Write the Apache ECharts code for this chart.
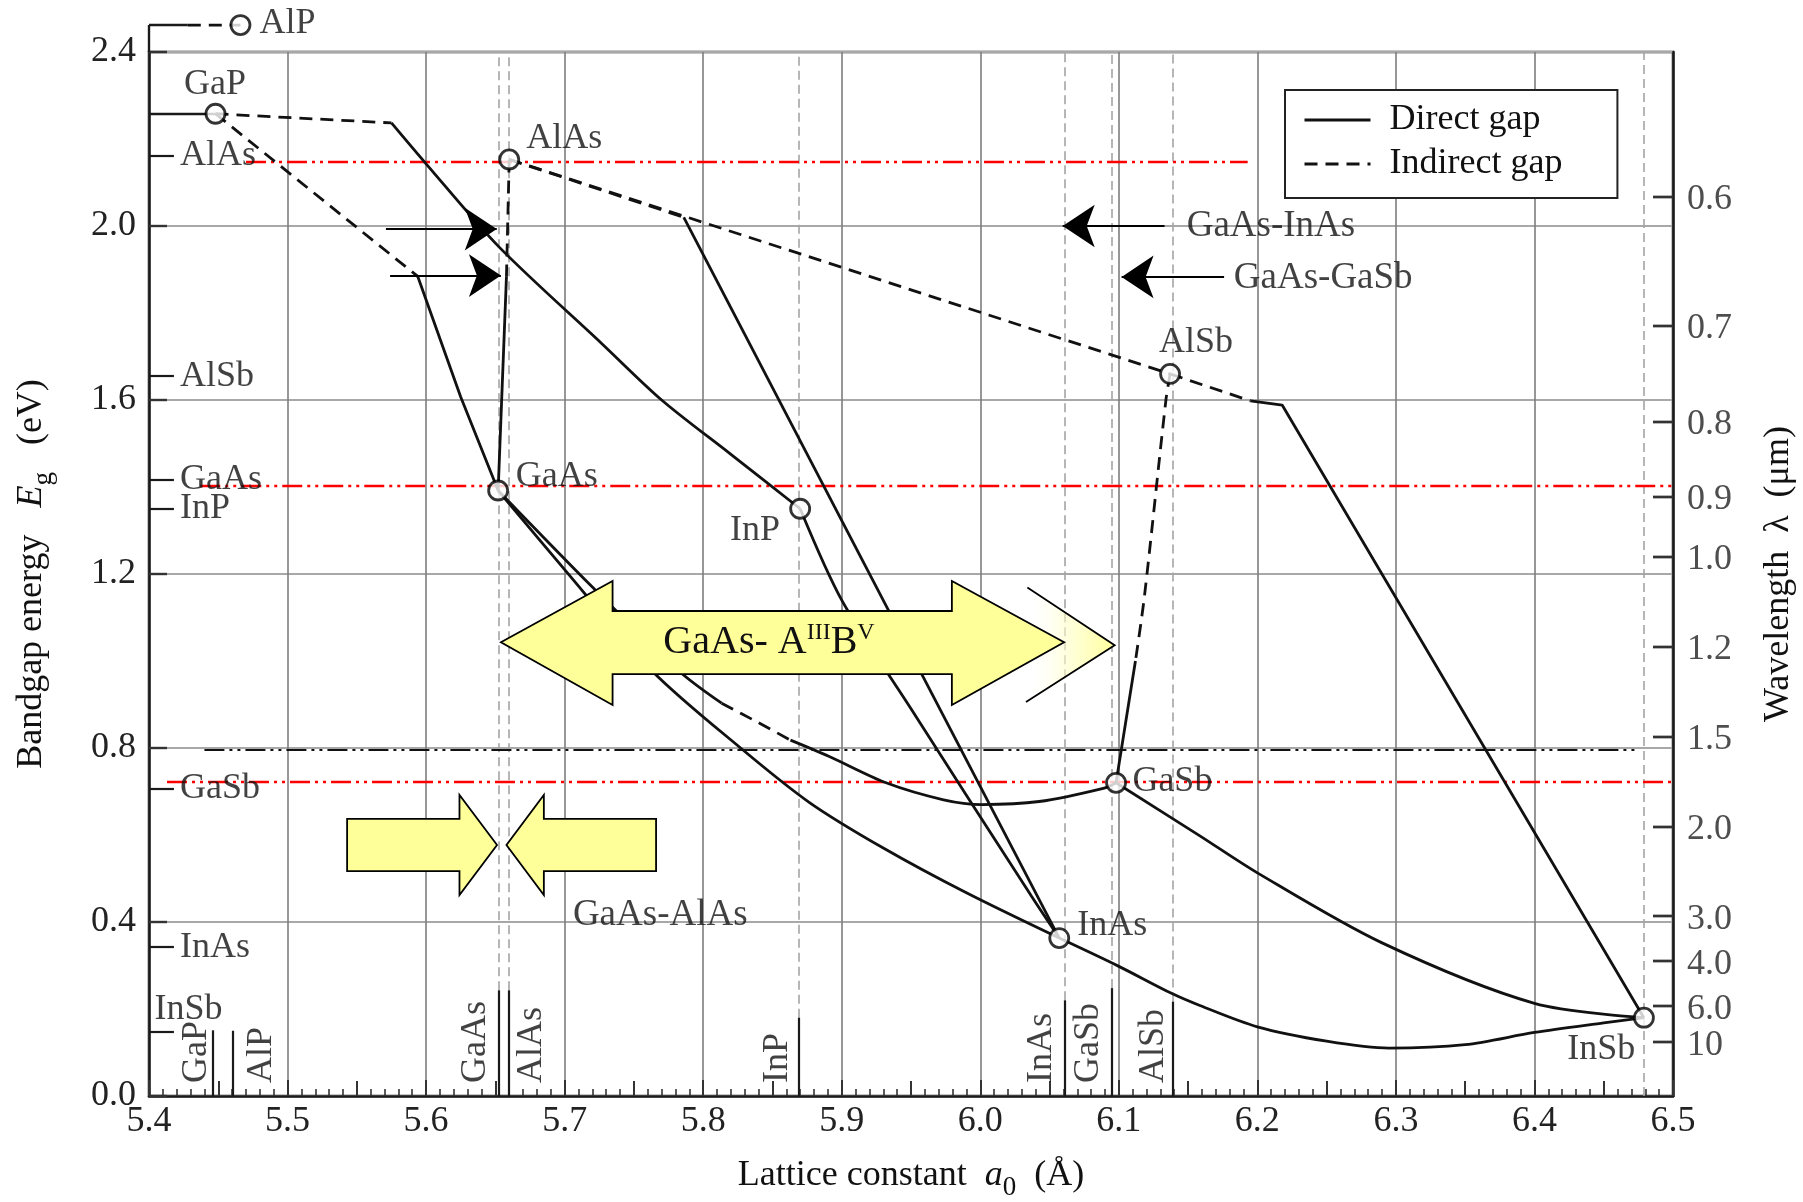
<!DOCTYPE html>
<html>
<head>
<meta charset="utf-8">
<title>Bandgap energy vs lattice constant</title>
<script src="https://cdn.jsdelivr.net/npm/echarts@6/dist/echarts.min.js"></script>
<style>
  html, body { margin: 0; padding: 0; background: #ffffff; }
  #chart { width: 1803px; height: 1202px; }
</style>
</head>
<body>
<div id="chart"></div>
<script>
// ---------- axis ranges and tick labels ----------
const latticeRange = [5.4, 6.5];
const gapRange = [0, 2.4];
const wavelengthTicks = [0.6, 0.7, 0.8, 0.9, 1.0, 1.2, 1.5, 2.0, 3.0, 4.0, 6.0, 10];
const wavelengthLabels = ['0.6', '0.7', '0.8', '0.9', '1.0', '1.2', '1.5', '2.0', '3.0', '4.0', '6.0', '10'];

// ---------- binary compounds (lattice constant Å, bandgap eV) ----------
const materialNames   = ['AlP', 'GaP', 'AlAs', 'GaAs', 'InP', 'AlSb', 'GaSb', 'InAs', 'InSb'];
const materialLattice = [5.466, 5.448, 5.660, 5.652, 5.870, 6.137, 6.098, 6.057, 6.479];
const materialGap     = [2.462, 2.258, 2.153, 1.392, 1.350, 1.660, 0.720, 0.363, 0.180];

// ---------- ternary alloy curves ----------
// indirect-gap branches
const GaP_InP_indirect   = [[5.448, 2.258], [5.575, 2.237]];
const GaP_GaAs_indirect  = [[5.448, 2.258], [5.594, 1.884]];
const AlAs_AlSb_indirect = [[5.660, 2.153], [6.137, 1.660]];
const AlAs_InAs_indirect = [[5.660, 2.153], [5.786, 2.020]];
const AlAs_GaAs_indirect = [[5.660, 2.153], [5.658, 1.883]];
const AlSb_GaSb_indirect = [[6.137, 1.660], [6.134, 1.600], [6.1185, 1.149], [6.112, 1.000]];
const AlSb_InSb_indirect = [[6.137, 1.660], [6.195, 1.598]];
const GaAs_GaSb_indirect = [[5.8133, 0.903], [5.840, 0.858], [5.863, 0.818]];
const AlP_leader_indirect = [[5.428, 2.462], [5.466, 2.462]];

// direct-gap branches
const GaP_InP_direct   = [[5.575, 2.237], [5.600, 2.143], [5.6526, 1.952], [5.7267, 1.730], [5.770, 1.600], [5.820, 1.475], [5.870, 1.350]];
const GaP_GaAs_direct  = [[5.594, 1.884], [5.625, 1.607], [5.652, 1.392]];
const GaAs_AlAs_direct = [[5.652, 1.392], [5.658, 1.883]];
const AlAs_InAs_direct = [[5.786, 2.020], [6.057, 0.363]];
const InP_InAs_direct  = [[5.870, 1.350], [5.900, 1.140], [5.950, 0.890], [6.037, 0.459], [6.057, 0.363]];
const GaAs_InAs_direct = [[5.652, 1.392], [5.700, 1.210], [5.7635, 0.976], [5.827, 0.800], [5.877, 0.674], [5.930, 0.570], [5.990, 0.467], [6.057, 0.363]];
const GaAs_GaSb_direct_a = [[5.652, 1.392], [5.720, 1.170], [5.7829, 0.976], [5.8133, 0.903]];
const GaAs_GaSb_direct_b = [[5.863, 0.818], [5.8906, 0.781], [5.932, 0.720], [5.9735, 0.681], [6.001, 0.670], [6.0425, 0.677], [6.0895, 0.708], [6.098, 0.720]];
const AlSb_GaSb_direct = [[6.112, 1.000], [6.102, 0.800], [6.098, 0.720]];
const GaSb_InSb_direct = [[6.098, 0.720], [6.1585, 0.598], [6.200, 0.513], [6.290, 0.352], [6.400, 0.213], [6.479, 0.180]];
const InAs_InSb_direct = [[6.057, 0.363], [6.100, 0.298], [6.138, 0.236], [6.1585, 0.208], [6.200, 0.159], [6.250, 0.126], [6.295, 0.110], [6.350, 0.118], [6.400, 0.146], [6.450, 0.168], [6.479, 0.180]];
const AlSb_InSb_direct = [[6.195, 1.598], [6.218, 1.588], [6.479, 0.180]];

// ---------- reference levels (eV) ----------
const levelAlAs = [[5.470, 2.148], [6.193, 2.148]];
const levelGaAs = [[5.437, 1.402], [6.500, 1.402]];
const levelGaSb = [[5.413, 0.722], [6.500, 0.722]];
const level0p8  = [[5.440, 0.797], [6.475, 0.797]];

// ---------- lattice-constant markers along the bottom ----------
const markerNames   = ['GaP', 'AlP', 'GaAs', 'AlAs', 'InP', 'InAs', 'GaSb', 'AlSb'];
const markerLattice = [5.446, 5.4605, 5.6525, 5.6595, 5.869, 6.061, 6.0946, 6.139];
const markerTop     = [0.151, 0.150, 0.243, 0.243, 0.180, 0.220, 0.248, 0.217];
const markerLabelX  = [5.434, 5.481, 5.636, 5.676, 5.854, 6.044, 6.078, 6.125];
const dashedLattice = [5.6525, 5.6595, 5.869, 6.061, 6.0946, 6.139, 6.479];
const dashedBottom  = [0.243, 0.243, 0.180, 0.220, 0.248, 0.217, 0.0];

// ---------- bandgap markers on the energy axis ----------
const axisMaterialNames = ['AlAs', 'AlSb', 'GaAs', 'InP', 'GaSb', 'InAs'];
const axisMaterialGap   = [2.162, 1.655, 1.417, 1.351, 0.707, 0.342];
const InSbAxisGap = 0.148;

// ---------- text beside the compound points ----------
const pointLabelText = ['AlP', 'GaP', 'AlAs', 'AlSb', 'GaAs', 'InP', 'GaSb', 'InAs', 'InSb'];
const pointLabelX    = [5.4797, 5.4477, 5.6723, 6.129, 5.6648, 5.8193, 6.1098, 6.070, 6.4237];
const pointLabelY    = [2.466, 2.326, 2.202, 1.731, 1.425, 1.300, 0.722, 0.391, 0.106];

// ---------- annotation arrows ----------
const pointerFrom = [[5.571, 1.993], [5.574, 1.886], [6.133, 2.000], [6.176, 1.883]];
const pointerTo   = [[5.651, 1.993], [5.654, 1.886], [6.0595, 2.000], [6.102, 1.883]];
const noteText = ['GaAs-InAs', 'GaAs-GaSb', 'GaAs-AlAs'];
const noteX    = [6.149, 6.183, 5.769];
const noteY    = [2.000, 1.880, 0.415];

const FONT = 'Liberation Serif';
const INK = '#111111';

const GRID = { left: 149, right: 130, top: 52, bottom: 106 };
const plotWidth = 1803 - GRID.left - GRID.right;
const pxPerAngstrom = plotWidth / (latticeRange[1] - latticeRange[0]);

const chart = echarts.init(document.getElementById('chart'), null, { renderer: 'canvas' });

const series = [];

// thin segments drawn through the cartesian scales
function segments(list, lineStyle, z, extra) {
  series.push(Object.assign({
    type: 'lines', coordinateSystem: 'cartesian2d', xAxisIndex: 0, yAxisIndex: 0,
    data: list.map(c => ({ coords: c })), lineStyle: Object.assign({ opacity: 1 }, lineStyle), z: z,
    silent: true, animation: false, symbol: ['none', 'none']
  }, extra || {}));
}

function curve(kind, data, smooth) {
  series.push({
    type: 'line', name: kind === 'direct' ? 'Direct gap' : 'Indirect gap',
    xAxisIndex: 0, yAxisIndex: 0, data: data,
    symbol: 'none', showSymbol: false,
    smooth: smooth ? 0.3 : false,
    lineStyle: { color: INK, width: 2.8, type: kind === 'direct' ? 'solid' : [13, 8] },
    silent: true, animation: false, clip: false, z: 4
  });
}

// grid-wide dashed lattice verticals
segments(dashedLattice.map((x, i) => [[x, dashedBottom[i]], [x, gapRange[1]]]),
  { color: '#a4a4a4', width: 1.6, type: [9, 5] }, 2);
// solid lattice markers at the bottom
segments(markerLattice.map((x, i) => [[x, 0], [x, markerTop[i]]]),
  { color: '#1a1a1a', width: 2.2 }, 3);
// energy-axis marks
segments(axisMaterialGap.map(g => [[latticeRange[0], g], [5.418, g]]).concat([[[latticeRange[0], InSbAxisGap], [5.418, InSbAxisGap]]]),
  { color: '#1a1a1a', width: 2.2 }, 3);
segments([[[latticeRange[0], materialGap[1]], [materialLattice[1], materialGap[1]]]],
  { color: '#1a1a1a', width: 2.4 }, 3);
// AlP leader above the frame
segments([[[latticeRange[0], gapRange[1]], [latticeRange[0], materialGap[0]]], [[latticeRange[0], materialGap[0]], [5.428, materialGap[0]]]],
  { color: '#1a1a1a', width: 2.4 }, 3, { clip: false });
// reference levels
segments([levelAlAs, levelGaAs, levelGaSb], { color: '#ff0000', width: 2.4, type: [20, 5, 3, 5, 3, 5] }, 3);
segments([level0p8], { color: '#111111', width: 2.2, type: [20, 5, 3, 5, 3, 5] }, 3);

// wavelength scale: ticks at E = 1.24 / λ on the right-hand axis
const lambdaEnergy = wavelengthTicks.map(l => 1.24 / l);
const tickLen = 20 / pxPerAngstrom;
segments(lambdaEnergy.map(e => [[latticeRange[1] - tickLen, e], [latticeRange[1], e]]),
  { color: '#333', width: 2.4 }, 9, { clip: false });

// alloy curves
curve('direct', GaP_InP_direct, true);
curve('direct', GaP_GaAs_direct, false);
curve('direct', GaAs_AlAs_direct, false);
curve('direct', AlAs_InAs_direct, false);
curve('direct', InP_InAs_direct, true);
curve('direct', GaAs_InAs_direct, true);
curve('direct', GaAs_GaSb_direct_a, true);
curve('direct', GaAs_GaSb_direct_b, true);
curve('direct', AlSb_GaSb_direct, true);
curve('direct', GaSb_InSb_direct, true);
curve('direct', InAs_InSb_direct, true);
curve('direct', AlSb_InSb_direct, false);
curve('indirect', GaP_InP_indirect, false);
curve('indirect', GaP_GaAs_indirect, false);
curve('indirect', AlAs_AlSb_indirect, false);
curve('indirect', AlAs_InAs_indirect, false);
curve('indirect', AlAs_GaAs_indirect, false);
curve('indirect', AlSb_GaSb_indirect, true);
curve('indirect', AlSb_InSb_indirect, false);
curve('indirect', GaAs_GaSb_indirect, true);
curve('indirect', AlP_leader_indirect, false);

// compound points
series.push({
  type: 'scatter', xAxisIndex: 0, yAxisIndex: 0,
  data: materialLattice.map((x, i) => [x, materialGap[i]]),
  symbol: 'circle', symbolSize: 19, clip: false, silent: true, animation: false,
  itemStyle: { color: '#ffffff', borderColor: '#000', borderWidth: 2.8 }, z: 6
});

// pointer arrows
series.push({
  type: 'lines', coordinateSystem: 'cartesian2d', xAxisIndex: 0, yAxisIndex: 0,
  data: pointerFrom.map((p, i) => ({ coords: [p, pointerTo[i]] })),
  symbol: ['none', 'arrow'], symbolSize: 32,
  lineStyle: { color: '#000', width: 2, opacity: 1 }, silent: true, animation: false, z: 7
});

// text helpers
function textItem(text, x, y, align, rotate, size, color) {
  return {
    value: [x, y],
    label: {
      show: true, formatter: text, position: 'inside', align: align, verticalAlign: 'middle',
      rotate: rotate || 0, fontFamily: FONT, fontSize: size || 36, color: color || INK
    }
  };
}
const textData = [];
pointLabelText.forEach((t, i) => textData.push(textItem(t, pointLabelX[i], pointLabelY[i], t === 'GaP' ? 'center' : 'left')));
axisMaterialNames.forEach((t, i) => textData.push(textItem(t, 5.4224, axisMaterialGap[i], 'left')));
textData.push(textItem('InSb', 5.404, 0.198, 'left'));
markerNames.forEach((t, i) => textData.push(textItem(t, markerLabelX[i], 0.030, 'left', 90)));
noteText.forEach((t, i) => textData.push(textItem(t, noteX[i], noteY[i], i === 2 ? 'center' : 'left', 0, 37)));
// wavelength labels beside the right-hand axis (14 px clear of the axis line)
const labelGapX = 14 / pxPerAngstrom;
const pxPerEv = (1202 - GRID.top - GRID.bottom) / (gapRange[1] - gapRange[0]);
wavelengthLabels.forEach((t, i) => textData.push(textItem(t, latticeRange[1] + labelGapX, lambdaEnergy[i] - 3 / pxPerEv, 'left', 0, 36, '#222')));
series.push({
  type: 'scatter', xAxisIndex: 0, yAxisIndex: 0, data: textData,
  symbolSize: 1, itemStyle: { color: 'rgba(0,0,0,0)' }, clip: false, silent: true, animation: false,
  labelLayout: { hideOverlap: false }, z: 8
});

const axisText = { fontFamily: FONT, fontSize: 36, color: '#222' };

chart.setOption({
  backgroundColor: '#ffffff',
  animation: false,
  grid: {
    left: GRID.left, right: GRID.right, top: GRID.top, bottom: GRID.bottom,
    show: true, borderColor: '#1a1a1a', borderWidth: 2.5, containLabel: false, outerBoundsMode: 'none'
  },
  legend: {
    data: ['Direct gap', 'Indirect gap'], orient: 'vertical', left: 1285, top: 90,
    itemWidth: 66, itemHeight: 14, itemGap: 8, padding: [12, 55, 16, 18],
    borderColor: '#222', borderWidth: 2, backgroundColor: '#ffffff', selectedMode: false,
    itemStyle: { opacity: 0 }, lineStyle: { width: 3 },
    textStyle: { fontFamily: FONT, fontSize: 36, color: INK, padding: [0, 0, 0, 14] }
  },
  xAxis: [
    {
      type: 'value', min: latticeRange[0], max: latticeRange[1], interval: 0.1, position: 'bottom',
      axisLine: { show: true, onZero: false, lineStyle: { color: '#1a1a1a', width: 2.5 } },
      axisTick: { show: true, inside: true, length: 16, lineStyle: { color: '#333', width: 2 } },
      minorTick: { show: true, splitNumber: 10, length: 7, lineStyle: { color: '#333', width: 1.6 } },
      axisLabel: Object.assign({ margin: 8, formatter: v => v.toFixed(1) }, axisText),
      splitLine: { show: true, lineStyle: { color: '#7d7d7d', width: 1.6 } },
      name: '{n|Lattice constant  }{i|a}{s|0}{n|  (Å)}', nameLocation: 'middle', nameGap: 55,
      nameTextStyle: {
        rich: {
          n: { fontFamily: FONT, fontSize: 36, color: INK, lineHeight: 50 },
          i: { fontFamily: FONT, fontSize: 36, fontStyle: 'italic', color: INK, lineHeight: 50 },
          s: { fontFamily: FONT, fontSize: 27, color: INK, lineHeight: 50, verticalAlign: 'bottom' }
        }
      }
    },
    {
      type: 'value', min: latticeRange[0], max: latticeRange[1], interval: 0.05, position: 'bottom',
      axisLine: { show: false }, axisLabel: { show: false }, splitLine: { show: false },
      axisTick: { show: true, inside: true, length: 15, lineStyle: { color: '#333', width: 2 } }
    }
  ],
  yAxis: [
    {
      type: 'value', min: gapRange[0], max: gapRange[1], interval: 0.4, position: 'left',
      axisLine: { show: true, onZero: false, lineStyle: { color: '#1a1a1a', width: 2.5 } },
      axisTick: { show: true, inside: true, length: 18, lineStyle: { color: '#333', width: 2.4 } },
      axisLabel: Object.assign({ margin: 13, formatter: v => v.toFixed(1) }, axisText),
      splitLine: { show: true, lineStyle: { color: '#a8a8a8', width: 1.8 } },
      name: '{n|Bandgap energy   }{i|E}{s|g}{n|   (eV)}', nameLocation: 'middle', nameRotate: 90, nameGap: 92,
      nameTextStyle: {
        rich: {
          n: { fontFamily: FONT, fontSize: 36, color: INK, lineHeight: 50 },
          i: { fontFamily: FONT, fontSize: 36, fontStyle: 'italic', color: INK, lineHeight: 50 },
          s: { fontFamily: FONT, fontSize: 27, color: INK, lineHeight: 50, verticalAlign: 'bottom' }
        }
      }
    },
    {
      type: 'value', min: gapRange[0], max: gapRange[1], position: 'right',
      axisLine: { show: true, onZero: false, lineStyle: { color: '#1a1a1a', width: 2.5 } },
      axisTick: { show: true, inside: true, length: 20, customValues: lambdaEnergy, lineStyle: { color: '#333', width: 2.4 } },
      axisLabel: { show: false }, splitLine: { show: false },
      name: 'Wavelength  λ  (μm)', nameLocation: 'middle', nameRotate: 90, nameGap: 88,
      nameTextStyle: { fontFamily: FONT, fontSize: 36, color: INK }
    }
  ],
  series: series
});

// ---------- block arrows (annotation shapes placed in data coordinates) ----------
const bigArrow = { tipL: 5.654, headL: 5.7346, headR: 5.9795, tipR: 6.0605, mid: 1.043, bodyTop: 1.115, bodyBot: 0.970, headTop: 1.184, headBot: 0.899 };
const chevron = [[6.034, 1.169], [6.097, 1.036], [6.033, 0.906]];
const pinchR = { tail: 5.543, base: 5.6241, tip: 5.6512 };
const pinchL = { tail: 5.766, base: 5.685, tip: 5.658 };
const pinchY = { mid: 0.577, bodyTop: 0.637, bodyBot: 0.517, headTop: 0.692, headBot: 0.462 };

const px = (x, y) => chart.convertToPixel({ xAxisIndex: 0, yAxisIndex: 0 }, [x, y]);
const YELLOW = '#ffff99';

function bigArrowPoints(a) {
  return [
    [a.tipL, a.mid], [a.headL, a.headTop], [a.headL, a.bodyTop], [a.headR, a.bodyTop], [a.headR, a.headTop],
    [a.tipR, a.mid], [a.headR, a.headBot], [a.headR, a.bodyBot], [a.headL, a.bodyBot], [a.headL, a.headBot]
  ].map(p => px(p[0], p[1]));
}
function pinchPoints(p, y) {
  return [
    [p.tail, y.bodyTop], [p.base, y.bodyTop], [p.base, y.headTop], [p.tip, y.mid],
    [p.base, y.headBot], [p.base, y.bodyBot], [p.tail, y.bodyBot]
  ].map(q => px(q[0], q[1]));
}

const chevronPx = chevron.map(p => px(p[0], p[1]));
const textCenter = px(5.8504, bigArrow.mid);

chart.setOption({
  graphic: [
    {
      type: 'polygon', z: 50, silent: true,
      shape: { points: chevronPx },
      style: {
        fill: new echarts.graphic.LinearGradient(0, 0, 1, 0, [
          { offset: 0, color: 'rgba(255,255,255,0)' },
          { offset: 0.45, color: 'rgba(255,255,200,0.6)' },
          { offset: 1, color: YELLOW }
        ]),
        stroke: null
      }
    },
    {
      type: 'polyline', z: 51, silent: true,
      shape: { points: chevronPx },
      style: { stroke: '#000', lineWidth: 1.8, fill: null }
    },
    {
      type: 'polygon', z: 52, silent: true,
      shape: { points: bigArrowPoints(bigArrow) },
      style: { fill: YELLOW, stroke: '#000', lineWidth: 1.8 }
    },
    {
      type: 'polygon', z: 52, silent: true,
      shape: { points: pinchPoints(pinchR, pinchY) },
      style: { fill: YELLOW, stroke: '#000', lineWidth: 1.8 }
    },
    {
      type: 'polygon', z: 52, silent: true,
      shape: { points: pinchPoints(pinchL, pinchY) },
      style: { fill: YELLOW, stroke: '#000', lineWidth: 1.8 }
    },
    {
      type: 'text', z: 53, silent: true,
      x: textCenter[0] - 4, y: textCenter[1],
      style: {
        text: '{a|GaAs- A}{s|III}{a|B}{s|V}',
        align: 'center', verticalAlign: 'middle',
        rich: {
          a: { fontFamily: FONT, fontSize: 40, fill: '#111', lineHeight: 44 },
          s: { fontFamily: FONT, fontSize: 24, fill: '#111', lineHeight: 44, verticalAlign: 'top' }
        }
      }
    }
  ]
});
</script>
</body>
</html>
